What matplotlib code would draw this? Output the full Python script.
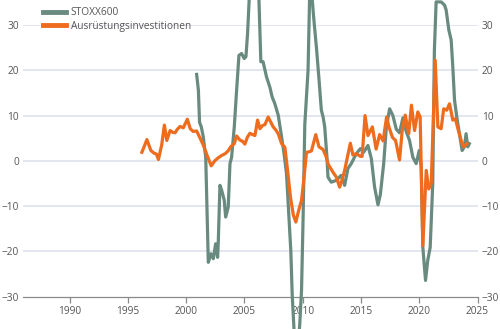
import matplotlib
matplotlib.use("Agg")
import matplotlib.pyplot as plt

plt.rcParams['font.family'] = ['Open Sans', 'DejaVu Sans']

# STOXX600, y/y in %
stoxx_t = [
    2000.9, 2001.05, 2001.15, 2001.3, 2001.47, 2001.68, 2001.9, 2002.13, 2002.33, 2002.53,
    2002.7, 2002.76, 2002.9, 2003.05, 2003.27, 2003.39, 2003.61, 2003.76, 2003.9, 2004.13,
    2004.33, 2004.53, 2004.76, 2004.98, 2005.13, 2005.27, 2005.45, 2005.7, 2006.0, 2006.24,
    2006.41, 2006.6, 2006.9, 2007.18, 2007.38, 2007.6, 2007.9, 2008.19, 2008.4, 2008.61,
    2008.98, 2009.1, 2009.35, 2009.5, 2009.75, 2009.9, 2010.03, 2010.18, 2010.46, 2010.6,
    2010.75, 2010.9, 2011.0, 2011.18, 2011.4, 2011.6, 2011.75, 2011.89, 2012.08, 2012.17,
    2012.45, 2012.88, 2013.3, 2013.6, 2013.88, 2014.17, 2014.6, 2014.95, 2015.23, 2015.6,
    2015.89, 2016.17, 2016.46, 2016.66, 2016.95, 2017.18, 2017.46, 2017.74, 2018.03, 2018.31,
    2018.6, 2018.88, 2019.17, 2019.45, 2019.74, 2020.0, 2020.17, 2020.31, 2020.54, 2020.73,
    2020.94, 2021.16, 2021.3, 2021.45, 2021.88, 2022.17, 2022.31, 2022.54, 2022.74, 2022.88,
    2023.03, 2023.22, 2023.45, 2023.68, 2023.87, 2024.02, 2024.16, 2024.3,
]
stoxx_v = [
    19.1, 15.6, 8.5, 7.5, 5.3, 0.8, -22.4, -20.5, -21.6, -18.3,
    -21.3, -17.6, -5.4, -6.5, -8.7, -12.4, -10.2, -0.6, 0.8, 7.5,
    15.6, 23.3, 23.7, 22.6, 23.0, 28.1, 38.0, 45.0, 42.0, 36.0,
    21.9, 21.9, 18.5, 16.3, 14.1, 12.7, 10.1, 5.3, 1.6, -2.8,
    -19.8, -29.5, -42.0, -44.0, -36.0, -28.6, -13.2, 8.0, 20.0, 37.0,
    38.0, 33.0, 30.0, 25.0, 18.0, 11.2, 9.7, 7.5, 0.8, -3.6,
    -4.7, -4.3, -3.2, -5.4, -1.7, -0.6, 1.6, 2.7, 1.9, 3.4,
    0.5, -5.8, -9.7, -7.5, -0.6, 7.5, 11.5, 10.0, 7.0, 6.2,
    9.5, 6.5, 4.5, 0.8, -0.6, 2.3, -1.4, -19.1, -26.4, -22.0,
    -19.1, -5.0, 24.4, 35.1, 35.1, 34.4, 33.3, 28.9, 26.7, 20.8,
    13.4, 9.7, 6.0, 2.3, 3.1, 6.0, 3.1, 3.8,
]

# Ausrüstungsinvestitionen, y/y in %
inv_t = [
    1996.2, 1996.45, 1996.63, 1996.97, 1997.25, 1997.45, 1997.62, 1997.9, 1998.13, 1998.34,
    1998.62, 1998.85, 1999.05, 1999.25, 1999.48, 1999.76, 2000.1, 2000.35, 2000.6, 2000.9,
    2001.2, 2001.47, 2001.8, 2002.15, 2002.45, 2002.76, 2003.05, 2003.35, 2003.6, 2003.85,
    2004.13, 2004.33, 2004.61, 2004.85, 2005.04, 2005.25, 2005.47, 2005.7, 2005.9, 2006.13,
    2006.33, 2006.55, 2006.76, 2007.04, 2007.25, 2007.47, 2007.7, 2007.9, 2008.19, 2008.47,
    2008.7, 2008.95, 2009.2, 2009.41, 2009.65, 2009.9, 2010.1, 2010.33, 2010.55, 2010.75,
    2011.12, 2011.4, 2011.75, 2012.0, 2012.2, 2012.6, 2012.89, 2013.17, 2013.4, 2013.6,
    2013.85, 2014.09, 2014.31, 2014.6, 2014.95, 2015.1, 2015.35, 2015.6, 2015.98, 2016.3,
    2016.6, 2016.9, 2017.2, 2017.4, 2017.7, 2017.97, 2018.31, 2018.54, 2018.8, 2019.1,
    2019.33, 2019.6, 2019.88, 2020.08, 2020.31, 2020.6, 2020.82, 2021.03, 2021.37, 2021.6,
    2021.88, 2022.1, 2022.36, 2022.6, 2022.88, 2023.1, 2023.35, 2023.6, 2023.8, 2024.1,
]
inv_v = [
    1.9, 3.5, 4.7, 2.3, 1.7, 1.5, 0.3, 3.5, 7.9, 4.5,
    6.7, 6.3, 6.2, 7.0, 7.6, 7.3, 9.2, 7.1, 6.5, 6.6,
    5.0, 3.5, 1.2, -1.1, 0.0, 0.7, 1.2, 1.6, 2.2, 3.2,
    3.8, 5.5, 4.6, 4.3, 3.7, 5.2, 6.1, 5.8, 5.6, 9.0,
    7.1, 7.8, 8.0, 9.7, 8.6, 7.5, 6.8, 6.0, 3.8, 3.0,
    -2.0, -8.0, -12.0, -13.5, -11.0, -8.7, -4.0, 1.9, 2.0, 2.2,
    5.8, 3.1, 2.5, 1.0, -0.8, -2.5, -3.6, -5.8, -4.0, -2.1,
    1.0, 3.9, 1.3, 1.6, 1.0, 1.0, 10.0, 5.6, 7.5, 2.6,
    5.8, 4.4, 9.7, 7.5, 5.2, 4.5, 0.2, 6.7, 10.1, 6.0,
    12.3, 6.7, 10.8, 9.7, -18.7, -2.1, -6.2, -5.0, 22.2, 7.5,
    7.1, 11.5, 11.2, 12.6, 9.0, 9.3, 6.8, 4.5, 3.1, 3.8,
]

y_ticks = [-30, -20, -10, 0, 10, 20, 30]
x_ticks = [1990, 1995, 2000, 2005, 2010, 2015, 2020, 2025]

c_stoxx = '#698b7f'
c_inv = '#ee6c1e'
c_text = '#555555'
c_grid = '#e3e6ef'

fig = plt.figure(figsize=(5.0, 3.29), dpi=100)
ax = fig.add_axes([0.046, 0.098, 0.909, 0.826])

ax.set_xlim(1986.0, 2025.0)
ax.set_ylim(-30, 30)

# lines run past the plot area, only the figure edge cuts them
ax.plot(stoxx_t, stoxx_v, color=c_stoxx, lw=2.3, clip_on=False,
        label='STOXX600', solid_joinstyle='round', zorder=3)
ax.plot(inv_t, inv_v, color=c_inv, lw=2.3, clip_on=False,
        label='Ausrüstungsinvestitionen', solid_joinstyle='round', zorder=4)

for y in y_ticks[1:]:
    ax.axhline(y, color=c_grid, lw=1.4, zorder=1)

for s in ['top', 'left', 'right']:
    ax.spines[s].set_visible(False)
ax.spines['bottom'].set_color('#8a8a8a')
ax.spines['bottom'].set_linewidth(0.9)

ax.set_xticks(x_ticks)
ax.set_yticks(y_ticks)
ax.tick_params(axis='x', colors='#8a8a8a', length=4, width=0.9,
               labelcolor=c_text, labelsize=7.3, pad=3)
ax.tick_params(axis='y', length=0, labelcolor=c_text, labelsize=7.3, pad=3,
               left=True, right=True, labelleft=True, labelright=True)

leg = fig.legend(loc='upper left', bbox_to_anchor=(0.078, 0.99), frameon=False,
                 fontsize=7.3, handlelength=2.3, handletextpad=0.45,
                 labelspacing=0.25, borderaxespad=0)
for t in leg.get_texts():
    t.set_color(c_text)
for h in leg.legend_handles:
    h.set_linewidth(3.5)

fig.savefig('out.png', dpi=100)
